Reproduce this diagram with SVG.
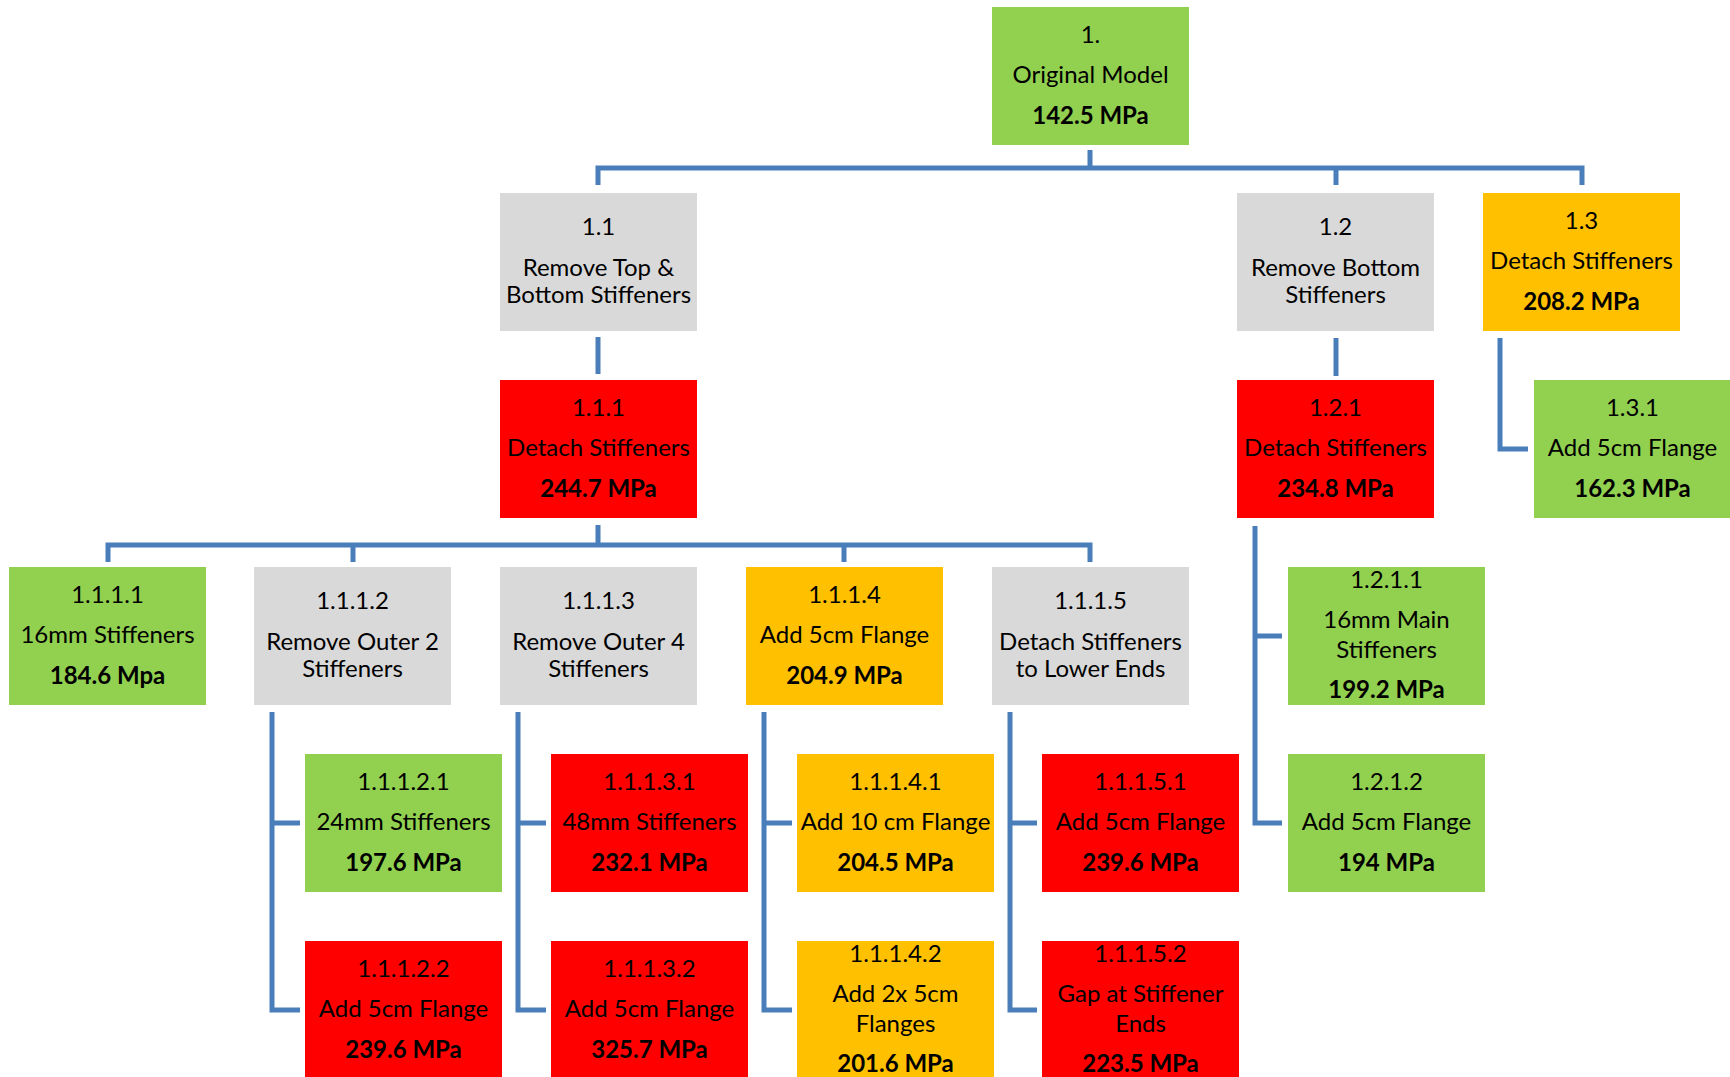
<svg xmlns="http://www.w3.org/2000/svg" width="1730" height="1077" viewBox="0 0 1730 1077">
<style>
.g{fill:#92D050}.y{fill:#D9D9D9}.r{fill:#FF0000}.o{fill:#FFC000}
text{font-family:Lato,"Open Sans","Liberation Sans",sans-serif;font-size:24px;fill:#000;text-anchor:middle}
.b{font-weight:bold}
.c{fill:none;stroke:#4A7EBB;stroke-width:5;stroke-linejoin:miter}
</style>
<rect width="1730" height="1077" fill="#fff"/>
<g id="connectors" class="c">
<path d="M598,185 V168 H1582 V185 M1090,150 V168 M1336,168 V185"/>
<path d="M598,337 V374"/>
<path d="M1336,338 V376"/>
<path d="M598,525 V545 M108,562 V545 H1090 V562 M353,545 V562 M844,545 V562"/>
<path d="M272,712 V1010 H300 M272,823 H300"/>
<path d="M518,712 V1010 H546 M518,823 H546"/>
<path d="M764,712 V1010 H792 M764,823 H792"/>
<path d="M1010,712 V1010 H1037 M1010,823 H1037"/>
<path d="M1255,526 V823 H1282 M1255,636 H1282"/>
<path d="M1500,338 V449 H1528"/>
</g>
<g id="n1"><rect class="g" x="992" y="7" width="197" height="138"/><text x="1090.5" y="43">1.</text><text x="1090.5" y="83">Original Model</text><text class="b" x="1090.5" y="124">142.5 MPa</text></g>
<g id="n1_1"><rect class="y" x="500" y="193" width="197" height="138"/><text x="598.5" y="235">1.1</text><text x="598.5" y="276">Remove Top &amp;</text><text x="598.5" y="303">Bottom Stiffeners</text></g>
<g id="n1_2"><rect class="y" x="1237" y="193" width="197" height="138"/><text x="1335.5" y="235">1.2</text><text x="1335.5" y="276">Remove Bottom</text><text x="1335.5" y="303">Stiffeners</text></g>
<g id="n1_3"><rect class="o" x="1483" y="193" width="197" height="138"/><text x="1581.5" y="229">1.3</text><text x="1581.5" y="269">Detach Stiffeners</text><text class="b" x="1581.5" y="310">208.2 MPa</text></g>
<g id="n1_1_1"><rect class="r" x="500" y="380" width="197" height="138"/><text x="598.5" y="416">1.1.1</text><text x="598.5" y="456">Detach Stiffeners</text><text class="b" x="598.5" y="497">244.7 MPa</text></g>
<g id="n1_2_1"><rect class="r" x="1237" y="380" width="197" height="138"/><text x="1335.5" y="416">1.2.1</text><text x="1335.5" y="456">Detach Stiffeners</text><text class="b" x="1335.5" y="497">234.8 MPa</text></g>
<g id="n1_3_1"><rect class="g" x="1534" y="380" width="197" height="138"/><text x="1632.5" y="416">1.3.1</text><text x="1632.5" y="456">Add 5cm Flange</text><text class="b" x="1632.5" y="497">162.3 MPa</text></g>
<g id="n1_1_1_1"><rect class="g" x="9" y="567" width="197" height="138"/><text x="107.5" y="603">1.1.1.1</text><text x="107.5" y="643">16mm Stiffeners</text><text class="b" x="107.5" y="684">184.6 Mpa</text></g>
<g id="n1_1_1_2"><rect class="y" x="254" y="567" width="197" height="138"/><text x="352.5" y="609">1.1.1.2</text><text x="352.5" y="650">Remove Outer 2</text><text x="352.5" y="677">Stiffeners</text></g>
<g id="n1_1_1_3"><rect class="y" x="500" y="567" width="197" height="138"/><text x="598.5" y="609">1.1.1.3</text><text x="598.5" y="650">Remove Outer 4</text><text x="598.5" y="677">Stiffeners</text></g>
<g id="n1_1_1_4"><rect class="o" x="746" y="567" width="197" height="138"/><text x="844.5" y="603">1.1.1.4</text><text x="844.5" y="643">Add 5cm Flange</text><text class="b" x="844.5" y="684">204.9 MPa</text></g>
<g id="n1_1_1_5"><rect class="y" x="992" y="567" width="197" height="138"/><text x="1090.5" y="609">1.1.1.5</text><text x="1090.5" y="650">Detach Stiffeners</text><text x="1090.5" y="677">to Lower Ends</text></g>
<g id="n1_2_1_1"><rect class="g" x="1288" y="567" width="197" height="138"/><text x="1386.5" y="588">1.2.1.1</text><text x="1386.5" y="628">16mm Main</text><text x="1386.5" y="658">Stiffeners</text><text class="b" x="1386.5" y="698">199.2 MPa</text></g>
<g id="n1_1_1_2_1"><rect class="g" x="305" y="754" width="197" height="138"/><text x="403.5" y="790">1.1.1.2.1</text><text x="403.5" y="830">24mm Stiffeners</text><text class="b" x="403.5" y="871">197.6 MPa</text></g>
<g id="n1_1_1_3_1"><rect class="r" x="551" y="754" width="197" height="138"/><text x="649.5" y="790">1.1.1.3.1</text><text x="649.5" y="830">48mm Stiffeners</text><text class="b" x="649.5" y="871">232.1 MPa</text></g>
<g id="n1_1_1_4_1"><rect class="o" x="797" y="754" width="197" height="138"/><text x="895.5" y="790">1.1.1.4.1</text><text x="895.5" y="830">Add 10 cm Flange</text><text class="b" x="895.5" y="871">204.5 MPa</text></g>
<g id="n1_1_1_5_1"><rect class="r" x="1042" y="754" width="197" height="138"/><text x="1140.5" y="790">1.1.1.5.1</text><text x="1140.5" y="830">Add 5cm Flange</text><text class="b" x="1140.5" y="871">239.6 MPa</text></g>
<g id="n1_2_1_2"><rect class="g" x="1288" y="754" width="197" height="138"/><text x="1386.5" y="790">1.2.1.2</text><text x="1386.5" y="830">Add 5cm Flange</text><text class="b" x="1386.5" y="871">194 MPa</text></g>
<g id="n1_1_1_2_2"><rect class="r" x="305" y="941" width="197" height="138"/><text x="403.5" y="977">1.1.1.2.2</text><text x="403.5" y="1017">Add 5cm Flange</text><text class="b" x="403.5" y="1058">239.6 MPa</text></g>
<g id="n1_1_1_3_2"><rect class="r" x="551" y="941" width="197" height="138"/><text x="649.5" y="977">1.1.1.3.2</text><text x="649.5" y="1017">Add 5cm Flange</text><text class="b" x="649.5" y="1058">325.7 MPa</text></g>
<g id="n1_1_1_4_2"><rect class="o" x="797" y="941" width="197" height="138"/><text x="895.5" y="962">1.1.1.4.2</text><text x="895.5" y="1002">Add 2x 5cm</text><text x="895.5" y="1032">Flanges</text><text class="b" x="895.5" y="1072">201.6 MPa</text></g>
<g id="n1_1_1_5_2"><rect class="r" x="1042" y="941" width="197" height="138"/><text x="1140.5" y="962">1.1.1.5.2</text><text x="1140.5" y="1002">Gap at Stiffener</text><text x="1140.5" y="1032">Ends</text><text class="b" x="1140.5" y="1072">223.5 MPa</text></g>
</svg>
